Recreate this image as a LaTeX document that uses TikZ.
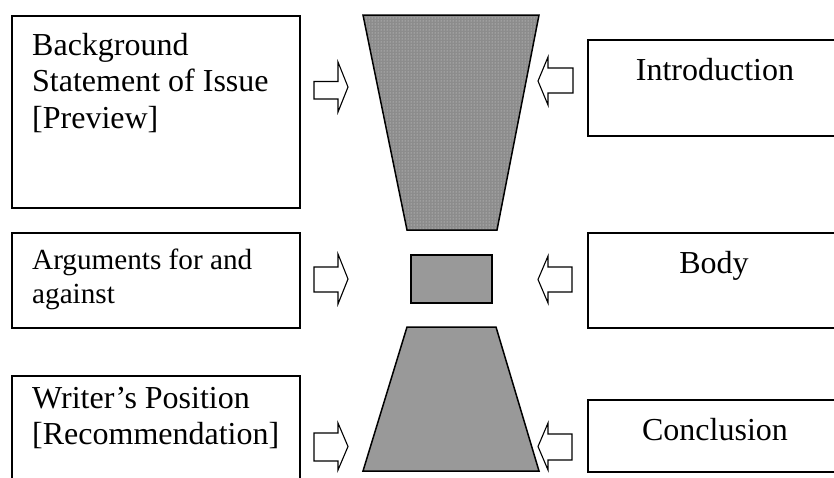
\documentclass[tikz,border=0pt]{standalone}
\usepackage{fontspec}
\setmainfont{Liberation Serif}
\usetikzlibrary{patterns}
\definecolor{shade}{RGB}{153,153,153}
\definecolor{stip}{RGB}{140,140,140}
\tikzset{
  box/.style={draw=black, line width=1.6pt, fill=white, rectangle, inner sep=0pt, anchor=north west},
  lbl/.style={inner sep=0pt, anchor=base west, font=\fontsize{32}{36.8}\selectfont},
  clbl/.style={inner sep=0pt, anchor=base, font=\fontsize{32}{36.8}\selectfont},
  blockarrow/.style={draw=black, line width=1.1pt, fill=white, line join=miter},
  funnel/.style={draw=black, line width=1.5pt, line join=miter},
}
\begin{document}
\begin{tikzpicture}[x=1pt, y=-1pt]
\useasboundingbox (0,0) rectangle (834,477);
\clip (0,0) rectangle (834,477);
\fill[white] (0,0) rectangle (834,477);
% left boxes
\node[box, minimum width=288pt, minimum height=192pt] (bg) at (11,15) {};
\node[lbl] (bgt) at (32,55) {\parbox[t]{260pt}{\raggedright Background\\Statement of Issue\\\relax[Preview]}};
\node[box, minimum width=288pt, minimum height=95pt] (arg) at (11,232) {};
\node[inner sep=0pt, anchor=base west, font=\fontsize{29.2}{34}\selectfont] (argt) at (32,269) {\parbox[t]{260pt}{\raggedright Arguments for and\\against}};
\node[box, minimum width=288pt, minimum height=130pt] (wri) at (11,375) {};
\node[lbl] (writ) at (32,408) {\parbox[t]{260pt}{\raggedright Writer’s Position\\\relax[Recommendation]}};
% right boxes
\node[box, minimum width=270pt, minimum height=96pt] (intro) at (587,39) {};
\node[clbl] (introt) at (715,80) {Introduction};
\node[box, minimum width=270pt, minimum height=95pt] (body) at (587,232) {};
\node[clbl] (bodyt) at (714,273) {Body};
\node[box, minimum width=270pt, minimum height=72pt] (concl) at (587,399) {};
\node[clbl] (conclt) at (715,440) {Conclusion};
% funnel shapes
\fill[stip] (363,15) -- (539,15) -- (497,230) -- (407,230) -- cycle;
\fill[pattern=dots, pattern color=white!72!stip] (363,15) -- (539,15) -- (497,230) -- (407,230) -- cycle;
\draw[funnel] (363,15) -- (539,15) -- (497,230) -- (407,230) -- cycle;
\draw[funnel, fill=shade] (411,255) rectangle (492,303);
\draw[funnel, fill=shade] (407,327) -- (496,327) -- (539,471) -- (363,471) -- cycle;
% right-pointing arrows (left side)
\draw[blockarrow] (314,81.5) -- (338,81.5) -- (338,62) -- (348,87) -- (338,112) -- (338,99) -- (314,99) -- cycle;
\draw[blockarrow] (314,267) -- (338,267) -- (338,254) -- (348,279) -- (338,304) -- (338,292) -- (314,292) -- cycle;
\draw[blockarrow] (314,433) -- (338,433) -- (338,423) -- (348,446.5) -- (338,470) -- (338,461) -- (314,461) -- cycle;
% left-pointing arrows (right side)
\draw[blockarrow] (573,68) -- (548,68) -- (548,57) -- (538,81) -- (548,105) -- (548,93) -- (573,93) -- cycle;
\draw[blockarrow] (572,267) -- (548,267) -- (548,256) -- (538,279.5) -- (548,303) -- (548,292) -- (572,292) -- cycle;
\draw[blockarrow] (572,434) -- (548,434) -- (548,423) -- (538,446.5) -- (548,470) -- (548,460) -- (572,460) -- cycle;
\end{tikzpicture}
\end{document}
